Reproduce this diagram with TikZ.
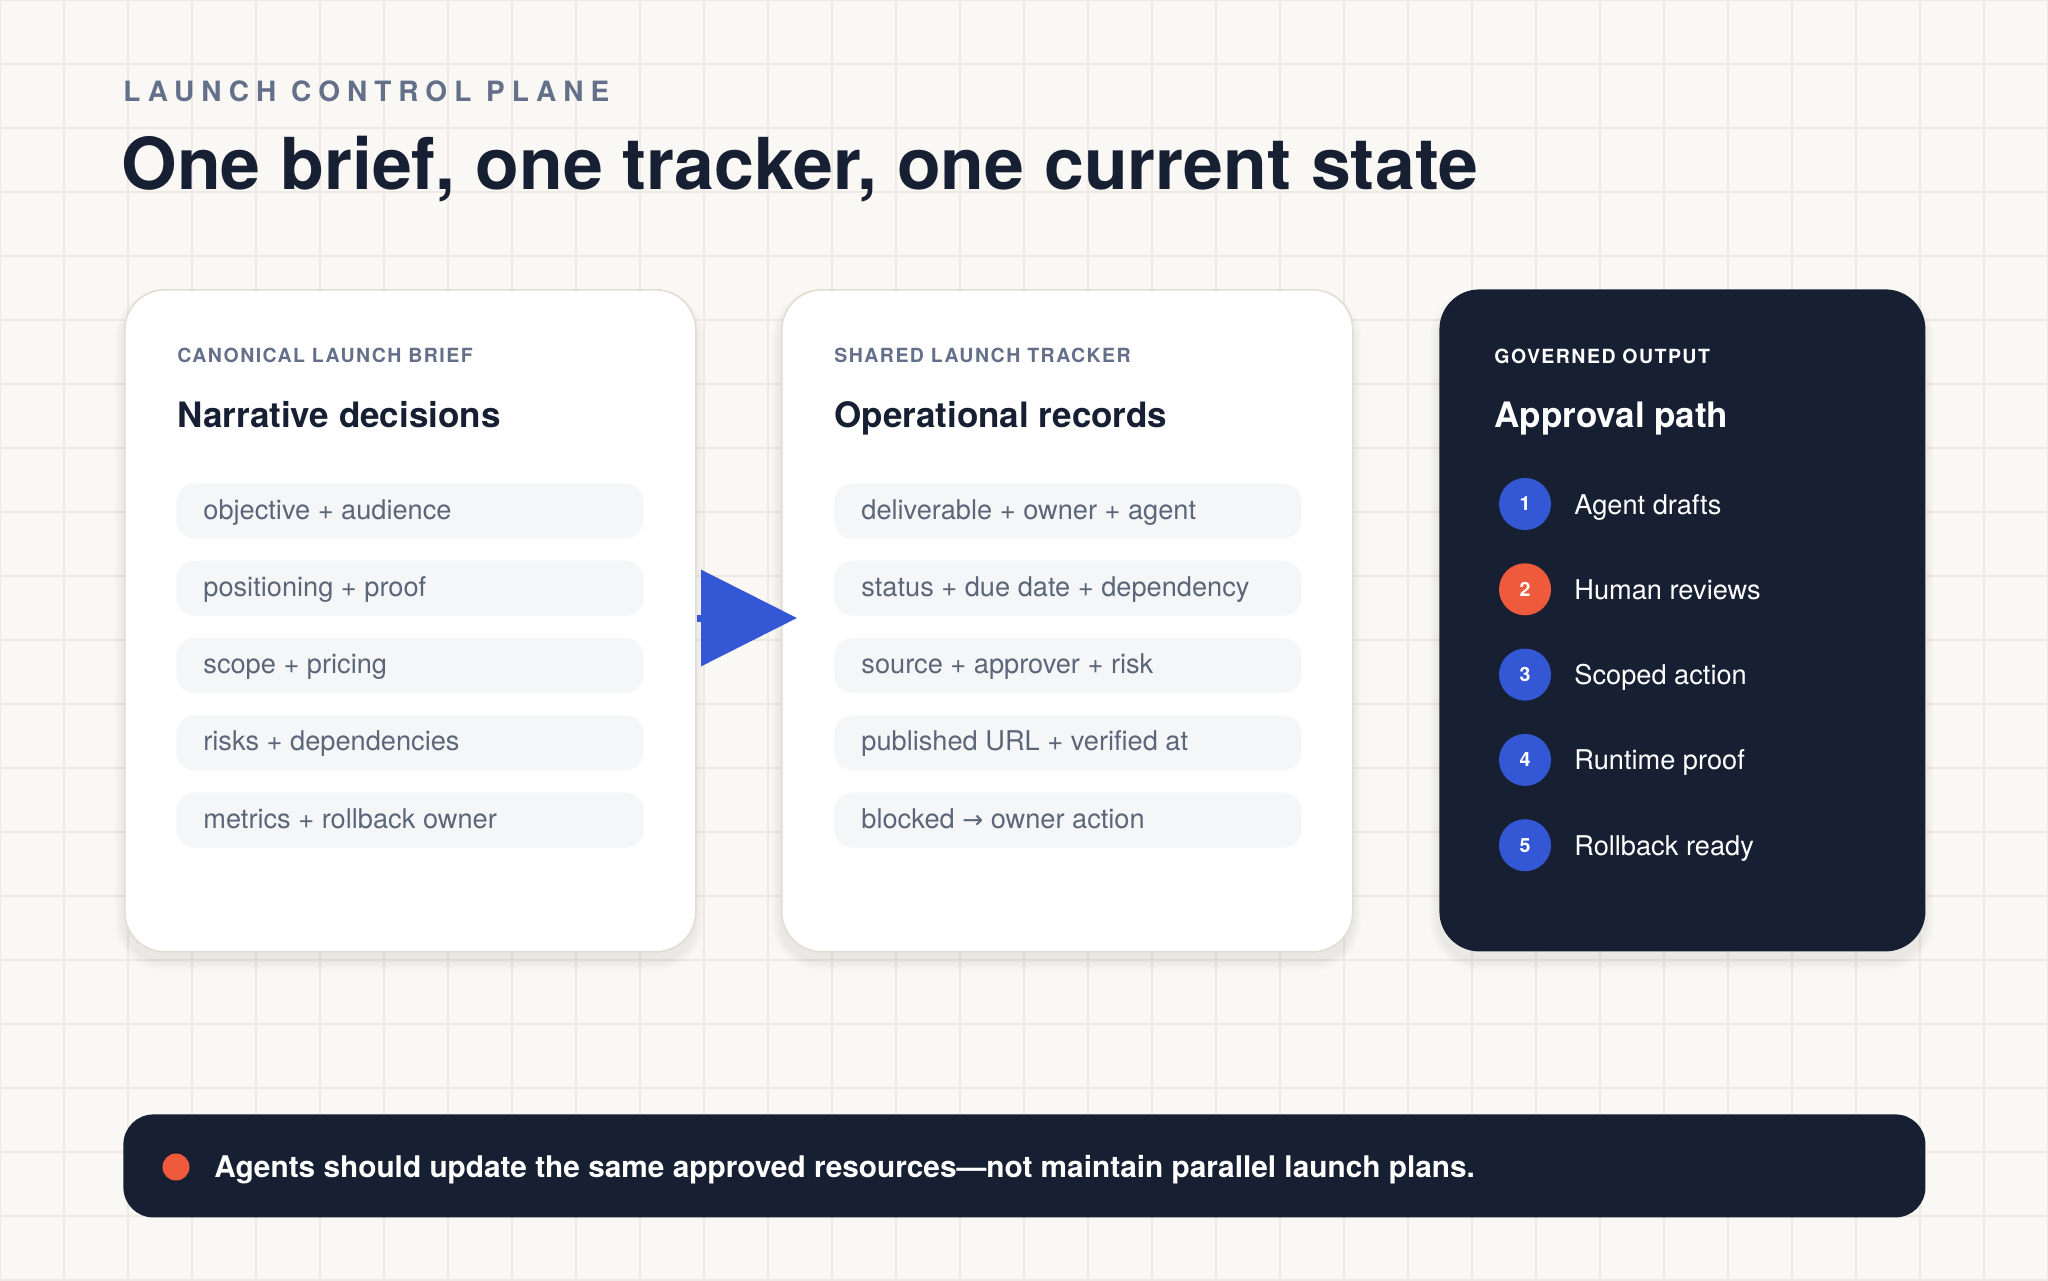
\documentclass[tikz,border=0pt]{standalone}
\usepackage{fontspec}
\setmainfont{TeX Gyre Heros}
\newfontfamily\eyebrowfont[LetterSpace=25]{TeX Gyre Heros}
\newfontfamily\labelfont[LetterSpace=7.5]{TeX Gyre Heros}
\newfontfamily\arrowfont{DejaVu Sans}
\usetikzlibrary{arrows.meta}
\definecolor{bg}{HTML}{FAF8F4}
\definecolor{gridc}{HTML}{EEEAE3}
\definecolor{navy}{HTML}{172033}
\definecolor{slate}{HTML}{647089}
\definecolor{pillfill}{HTML}{F5F6F8}
\definecolor{pilltext}{HTML}{5B6679}
\definecolor{cardborder}{HTML}{E4DDD2}
\definecolor{blueA}{HTML}{3457D5}
\definecolor{orangeA}{HTML}{F05A3C}
\newcommand\softshadow[4]{%
  \foreach \s in {1,...,8}{%
    \fill[black, opacity=0.009, rounded corners=20pt+\s*0.6pt] (#1-1.2*\s,#2-1.2*\s+10) rectangle (#3+1.2*\s,#4+1.2*\s+10);
  }}
\tikzset{
  cardbox/.style={draw=cardborder, line width=0.8pt, fill=white, rounded corners=20pt,
    inner sep=0pt, anchor=north west, minimum width=285.5pt, minimum height=331pt},
  darkcard/.style={fill=navy, rounded corners=20pt, inner sep=0pt, anchor=north west,
    minimum width=243pt, minimum height=331pt},
  pillbox/.style={fill=pillfill, rounded corners=9pt, inner sep=0pt, anchor=north west,
    minimum width=233.5pt, minimum height=27.5pt},
  pilltxt/.style={anchor=base west, inner sep=0pt, text=pilltext, font=\fontsize{13.6}{16}\selectfont},
  cardlabel/.style={anchor=base west, inner sep=0pt, text=slate, font=\labelfont\bfseries\fontsize{9.75}{12}\selectfont},
  cardhead/.style={anchor=base west, inner sep=0pt, text=navy, font=\bfseries\fontsize{17.5}{20}\selectfont},
  numdot/.style={circle, inner sep=0pt, minimum size=26pt, text=white, font=\bfseries\fontsize{9.8}{11}\selectfont},
  steptxt/.style={anchor=base west, inner sep=0pt, text=white, font=\fontsize{13.6}{16}\selectfont},
}
\begin{document}
\begin{tikzpicture}[x=0.5pt,y=-0.5pt]
\fill[bg] (0,0) rectangle (2048,1280);
\useasboundingbox (0,0) rectangle (2048,1280);
\foreach \i in {0,64,...,2048} \draw[gridc, line width=0.6pt] (\i,0) -- (\i,1280);
\foreach \j in {0,64,...,1280} \draw[gridc, line width=0.6pt] (0,\j) -- (2048,\j);

% headings
\node (eyebrow) [anchor=base west, inner sep=0pt, text=slate, font=\eyebrowfont\bfseries\fontsize{14}{16}\selectfont] at (123,101) {LAUNCH CONTROL PLANE};
\node (title) [anchor=base west, inner sep=0pt, text=navy, font=\bfseries\fontsize{35.8}{40}\selectfont] at (121,189) {One brief, one tracker, one current state};

% shadows
\softshadow{124}{289}{695}{951}
\softshadow{781}{289}{1352}{951}
\softshadow{1439}{289}{1925}{951}

% cards
\node (c1) [cardbox] at (124,289) {};
\node (c2) [cardbox] at (781,289) {};
\node (c3) [darkcard] at (1439,289) {};

% card 1
\node (l1) [cardlabel] at (177,362) {CANONICAL LAUNCH BRIEF};
\node (h1) [cardhead] at (177,427) {Narrative decisions};
\foreach \k/\t in {0/objective + audience, 1/positioning + proof, 2/scope + pricing, 3/risks + dependencies, 4/metrics + rollback owner}{
  \node (p1\k) [pillbox] at (176,483+77.3*\k) {};
  \node (t1\k) [pilltxt] at (203,519+77.3*\k) {\t};
}

% card 2
\node (l2) [cardlabel] at (834,362) {SHARED LAUNCH TRACKER};
\node (h2) [cardhead] at (834,427) {Operational records};
\foreach \k/\t in {0/deliverable + owner + agent, 1/status + due date + dependency, 2/source + approver + risk, 3/published URL + verified at, 4/blocked {\arrowfont\fontsize{12.5}{16}\selectfont →} owner action}{
  \node (p2\k) [pillbox] at (834,483+77.3*\k) {};
  \node (t2\k) [pilltxt] at (861,519+77.3*\k) {\t};
}

% card 3
\node (l3) [cardlabel, text=white] at (1494,363) {GOVERNED OUTPUT};
\node (h3) [cardhead, text=white] at (1494,427) {Approval path};
\foreach \k/\t/\c in {1/Agent drafts/blueA, 2/Human reviews/orangeA, 3/Scoped action/blueA, 4/Runtime proof/blueA, 5/Rollback ready/blueA}{
  \node (n\k) [numdot, fill=\c] at (1525,504+85.3*\k-85.3) {\k};
  \node (s\k) [steptxt] at (1574,514+85.3*\k-85.3) {\t};
}

% arrow
\coordinate (atip) at (797,618);
\draw[blueA, line width=3.5pt, -{Triangle[length=48pt, width=47.5pt]}] (c1.east |- atip) -- (atip);

% banner
\node (banner) [fill=navy, rounded corners=15pt, inner sep=0pt, anchor=north west, minimum width=901pt, minimum height=51.5pt] at (123,1114) {};
\node (bdot) [circle, fill=orangeA, inner sep=0pt, minimum size=13.5pt] at (176,1167) {};
\node (btext) [anchor=base west, inner sep=0pt, text=white, font=\bfseries\fontsize{14.9}{17}\selectfont] at (214,1177) {Agents should update the same approved resources—not maintain parallel launch plans.};
\end{tikzpicture}
\end{document}
